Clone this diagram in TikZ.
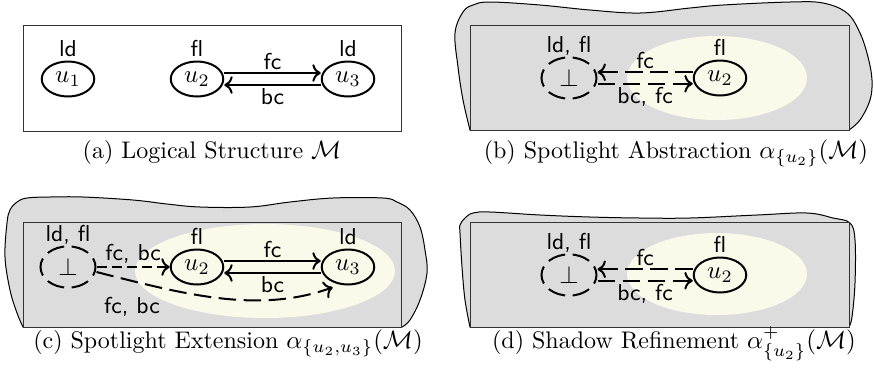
\documentclass[tikz,border=0pt]{standalone}
\usetikzlibrary{shapes.geometric,arrows.meta}
\definecolor{shadow}{RGB}{220,220,220}
\definecolor{spot}{RGB}{250,250,234}
\begin{document}
\begin{tikzpicture}[x=0.4pt,y=-0.4pt,
  every node/.style={font=\fontsize{9.6pt}{11pt}\selectfont},
  nd/.style={ellipse,draw,line width=0.8pt,inner sep=0pt,minimum width=21pt,minimum height=14pt},
  bt/.style={ellipse,draw,line width=0.8pt,dash pattern=on 7.1pt off 3pt,dash phase=3.5pt,inner sep=0pt,minimum width=22pt,minimum height=16.5pt},
  lb/.style={font=\sffamily\fontsize{9.2pt}{11pt}\selectfont,inner sep=1pt},
  ar/.style={->,line width=0.8pt},
  dar/.style={->,line width=0.8pt,dash pattern=on 7pt off 3pt},
  sdar/.style={->,line width=0.8pt,dash pattern=on 4pt off 2pt},
  frame/.style={draw=black!80,line width=0.4pt},
  cloudy/.style={fill=shadow,draw=black,line width=0.4pt},
  captxt/.style={anchor=base}]
\useasboundingbox (0,0) rectangle (874,375);

% ---------------- (a)
\draw[frame] (23,25) rectangle (401,131);
\node[nd] (a1) at (68,79) {$u_1$};
\node[nd] (a2) at (197,79) {$u_2$};
\node[nd] (a3) at (348,79) {$u_3$};
\node[lb,anchor=base] (a1l) at ([yshift=1.6pt]a1.north) {ld};
\node[lb,anchor=base] (a2l) at ([yshift=1.6pt]a2.north) {fl};
\node[lb,anchor=base] (a3l) at ([yshift=1.6pt]a3.north) {ld};
\draw[ar] ([yshift=2.4pt]a2.east) -- node[lb,above] (a23l) {fc} ([yshift=2.4pt]a3.west);
\draw[ar] ([yshift=-2.4pt]a3.west) -- node[lb,below] (a32l) {bc} ([yshift=-2.4pt]a2.west -| a2.east);
\node[captxt] (capa) at (212,158) {(a) Logical Structure $\mathcal{M}$};

% ---------------- (b)
\draw[cloudy] plot[smooth,tension=0.6] coordinates {(470,130) (463,100) (458,67) (455,33) (463,12) (473,5) (490,2) (540,5) (590,10) (640,13) (690,8) (723,5) (790,2) (823,3) (847,13) (860,33) (868,57) (872,80) (870,100) (860,120) (849,130)} -- cycle;
\draw[frame,fill=shadow] (470,25) rectangle (849,130);
\fill[spot] (717,78) ellipse [x radius=90, y radius=42];
\node[bt] (b0) at (569,78) {$\bot$};
\node[nd] (b2) at (720,78) {$u_2$};
\node[lb,anchor=base] (b0l) at ([yshift=1.6pt]b0.north) {ld, fl};
\node[lb,anchor=base] (b2l) at ([yshift=1.6pt]b2.north) {fl};
\draw[dar] ([yshift=2.3pt]b2.west) -- node[lb,above] (b20l) {fc} ([yshift=2.3pt]b0.east);
\draw[dar] ([yshift=-2.3pt]b0.east) -- node[lb,below] (b02l) {bc, fc} ([yshift=-2.3pt]b2.west);
\node[captxt] (capb) at (676,158) {(b) Spotlight Abstraction $\alpha_{\{u_2\}}(\mathcal{M})$};

% ---------------- (c)
\draw[cloudy] plot[smooth,tension=0.6] coordinates {(23,327) (17,313) (10,290) (5,257) (7,223) (10,210) (17,202) (27,198) (50,197) (83,197) (133,200) (167,204) (200,207) (250,207) (290,202) (333,198) (383,198) (397,202) (410,210) (420,227) (425,250) (427,273) (420,300) (410,320) (402,327)} -- cycle;
\draw[frame,fill=shadow] (23,222) rectangle (401,327);
\fill[spot] (265,271) ellipse [x radius=130, y radius=47];
\node[bt] (c0) at (68,267) {$\bot$};
\node[nd] (c2) at (197,267) {$u_2$};
\node[nd] (c3) at (348,267) {$u_3$};
\node[lb,anchor=base] (c0l) at ([yshift=1.6pt]c0.north) {ld, fl};
\node[lb,anchor=base] (c2l) at ([yshift=1.6pt]c2.north) {fl};
\node[lb,anchor=base] (c3l) at ([yshift=1.6pt]c3.north) {ld};
\draw[ar] ([yshift=2.4pt]c2.east) -- node[lb,above] (c23l) {fc} ([yshift=2.4pt]c3.west);
\draw[ar] ([yshift=-2.4pt]c3.west) -- node[lb,below] (c32l) {bc} ([yshift=-2.4pt]c2.west -| c2.east);
\draw[sdar] (c0.east) -- node[lb,above] (c02l) {fc, bc} (c2.west);
\draw[dar] ([yshift=-2pt]c0.east) .. controls +(87,22) and +(-75,27) .. ([yshift=-2pt]c3.225);
\node[lb] (c03l) at (132,307) {fc, bc};
\node[captxt] (capc) at (228,348) {(c) Spotlight Extension $\alpha_{\{u_2,u_3\}}(\mathcal{M})$};

% ---------------- (d)
\draw[cloudy] plot[smooth,tension=0.6] coordinates {(470,327) (465,300) (462,267) (460,233) (460,225) (465,218) (473,213) (490,212) (540,215) (590,217) (640,218) (690,218) (757,215) (807,213) (833,218) (850,223) (855,240) (855,283) (852,317) (849,327)} -- cycle;
\draw[frame,fill=shadow] (470,222) rectangle (849,327);
\fill[spot] (717,274) ellipse [x radius=90, y radius=41];
\node[bt] (d0) at (569,275) {$\bot$};
\node[nd] (d2) at (720,275) {$u_2$};
\node[lb,anchor=base] (d0l) at ([yshift=1.6pt]d0.north) {ld, fl};
\node[lb,anchor=base] (d2l) at ([yshift=1.6pt]d2.north) {fl};
\draw[dar] ([yshift=2.3pt]d2.west) -- node[lb,above] (d20l) {fc} ([yshift=2.3pt]d0.east);
\draw[dar] ([yshift=-2.3pt]d0.east) -- node[lb,below] (d02l) {bc, fc} ([yshift=-2.3pt]d2.west);
\node[captxt] (capd) at (674,348) {(d) Shadow Refinement $\alpha^{+}_{\{u_2\}}(\mathcal{M})$};
\end{tikzpicture}
\end{document}
